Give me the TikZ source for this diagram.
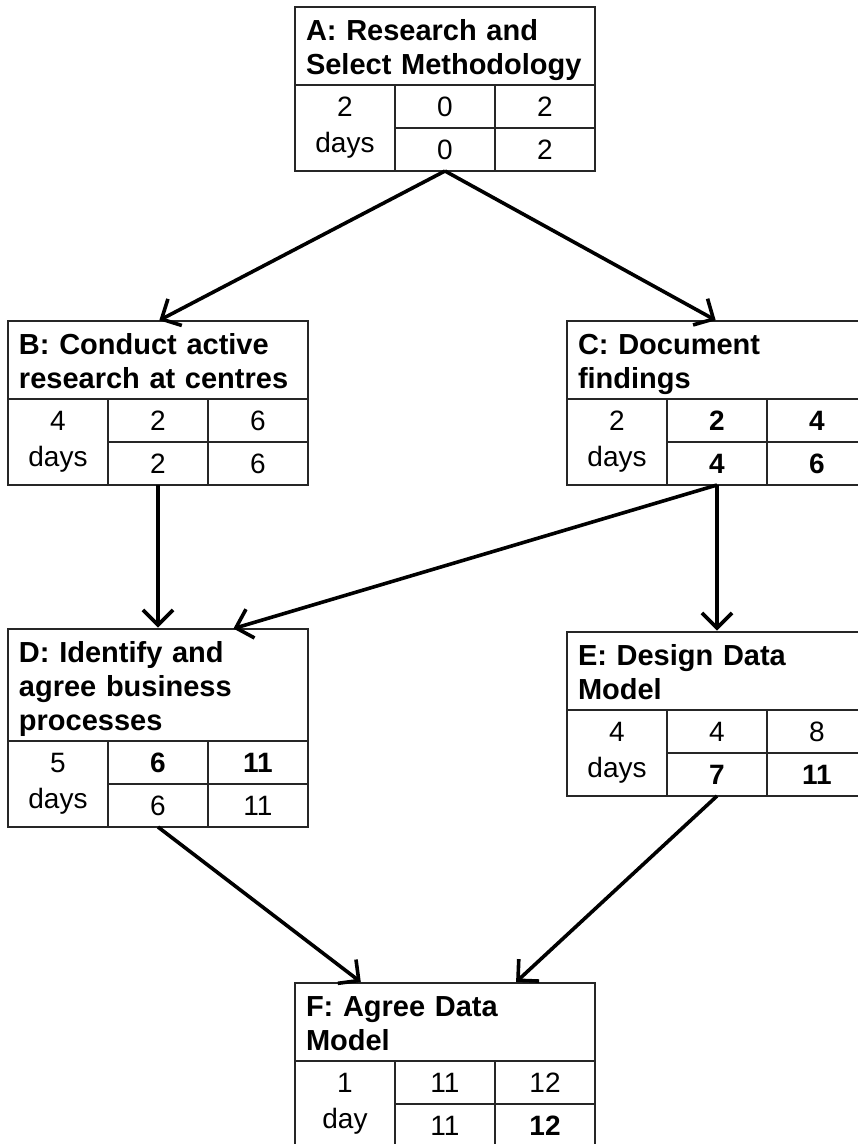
\documentclass[tikz,border=0pt]{standalone}
\usepackage{fontspec}
\setmainfont{Liberation Sans}
\usetikzlibrary{arrows.meta, calc}

% one activity box: name, top-left corner, title style, title, duration, ES, EF, LS, LF
\newcommand{\activity}[9]{%
  \node[titlebox, #3, anchor=north west] (#1-title) at #2 {#4};
  \node[durcell, anchor=north west] (#1-dur) at (#1-title.south west) {#5};
  \node[cell, anchor=north west] (#1-es) at (#1-dur.north east) {#6};
  \node[cell, anchor=north west] (#1-ef) at (#1-es.north east) {#7};
  \node[cell, anchor=north west] (#1-ls) at (#1-es.south west) {#8};
  \node[cell, anchor=north west] (#1-lf) at (#1-ls.north east) {#9};
}

\begin{document}
\begin{tikzpicture}[
  x=1pt, y=-1pt,
  every node/.style={outer sep=0pt},
  titlebox/.style={draw=black!85, line width=1.3pt, rectangle,
                   minimum width=300pt, text width=278pt, inner xsep=11pt,
                   inner ysep=0pt, text height=33pt,
                   align=left, font=\fontsize{29pt}{34pt}\selectfont\bfseries},
  twolines/.style={minimum height=78pt, text depth=45pt},
  threelines/.style={minimum height=112pt, text depth=79pt},
  cell/.style={draw=black!85, line width=1.3pt, rectangle,
               minimum width=100pt, minimum height=43pt, inner sep=0pt,
               align=center, font=\fontsize{28pt}{36pt}\selectfont},
  durcell/.style={cell, minimum height=86pt},
  link/.style={-{Straight Barb[length=15pt, width=30pt, line width=0pt 1]},
               line width=3.6pt, shorten >=1.5pt}
]
\useasboundingbox (0,0) rectangle (858,1144);
\clip (0,0) rectangle (858,1144);

%% Activities
\activity{A}{(295,7)}{twolines}{A: Research and\\Select Methodology}{2\\days}{0}{2}{0}{2}
\activity{B}{(8,321)}{twolines}{B: Conduct active\\research at centres}{4\\days}{2}{6}{2}{6}
\activity{C}{(567,321)}{twolines}{C: Document\\findings}{2\\days}{\textbf{2}}{\textbf{4}}{\textbf{4}}{\textbf{6}}
\activity{D}{(8,629)}{threelines}{D: Identify and\\agree business\\processes}{5\\days}{\textbf{6}}{\textbf{11}}{6}{11}
\activity{E}{(567,632)}{twolines}{E: Design Data\\Model}{4\\days}{4}{8}{\textbf{7}}{\textbf{11}}
\activity{F}{(295,983)}{twolines}{F: Agree Data\\Model}{1\\day}{11}{12}{11}{\textbf{12}}

%% Dependencies
\draw[link] (A-ls.south) -- (B-title.north);
\draw[link] (A-ls.south) -- (C-title.north);
\draw[link] (B-ls.south) -- (D-title.north);
\draw[link] (C-ls.south) -- ([xshift=74pt]D-title.north);
\draw[link] (C-ls.south) -- (E-title.north);
\draw[link] (D-ls.south) -- ([xshift=-83pt]F-title.north);
\draw[link] (E-ls.south) -- ([xshift=70pt]F-title.north);

\end{tikzpicture}
\end{document}
